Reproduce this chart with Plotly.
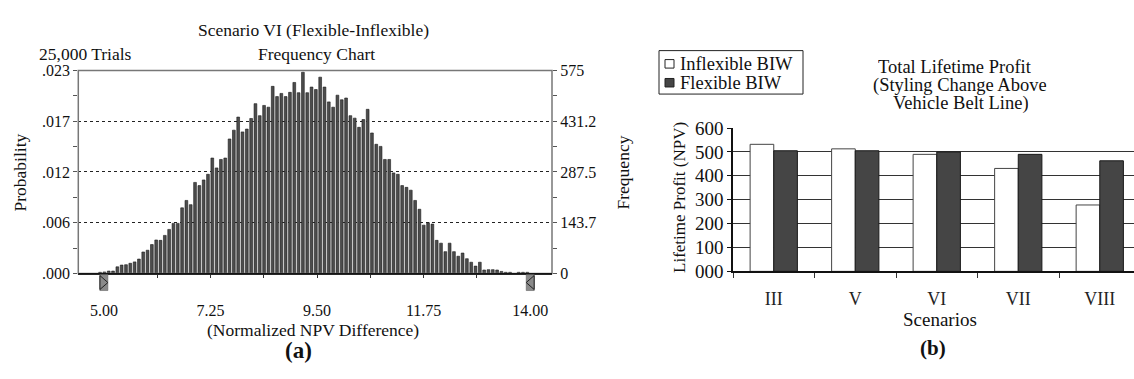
import plotly.graph_objects as go

# ---------------- data: panel (a) ----------------
trials = 25000
bin_start = 4.92
bin_width = 0.0911
freq = [3.5, 4.5, 7, 7, 19, 24, 25, 29, 33, 41,
        61, 66, 82, 95, 94, 108, 125, 142, 142, 186,
        207, 195, 258, 249, 265, 281, 327, 299, 323, 327,
        381, 406, 443, 401, 409, 439, 481, 447, 476, 471,
        530, 501, 510, 501, 513, 541, 512, 570, 512, 528,
        521, 556, 528, 486, 471, 505, 492, 497, 447, 440,
        414, 436, 465, 398, 366, 360, 323, 323, 285, 281,
        249, 244, 236, 207, 182, 137, 144, 140, 94, 86,
        62, 86, 62, 49, 58, 42, 32, 21, 32, 10,
        11, 11, 10, 6, 3.5, 3.5, 0, 3.5, 3.5, 3.5]
bin_centers = [bin_start + bin_width * i for i in range(len(freq))]
x_ticks = [5.00, 7.25, 9.50, 11.75, 14.00]
x_ticktext = ["5.00", "7.25", "9.50", "11.75", "14.00"]
x_minor = [6.125, 8.375, 10.625, 12.875]
freq_ticks = [0, 143.75, 287.5, 431.25, 575]
prob_ticktext = [".000", ".006", ".012", ".017", ".023"]
freq_ticktext = ["0", "143.7", "287.5", "431.2", "575"]
freq_minor = [71.875, 215.625, 359.375, 503.125]
range_lo, range_hi = 5.00, 14.00

# ---------------- data: panel (b) ----------------
scenarios = ["III", "V", "VI", "VII", "VIII"]
series_names = ["Inflexible BIW", "Flexible BIW"]
inflexible = [532, 513, 490, 431, 278]
flexible = [505, 505, 500, 490, 463]
profit_ticks = [0, 100, 200, 300, 400, 500, 600]
profit_ticktext = ["000", "100", "200", "300", "400", "500", "600"]
title_b_lines = ["Total Lifetime Profit", "(Styling Change Above", "Vehicle Belt Line)"]

W, H = 1134, 379
SERIF = "Liberation Serif, Times New Roman, serif"
WHITE_BAR = dict(color="white", line=dict(color="#444", width=1))
DARK_BAR = dict(color="#454545", line=dict(color="#1a1a1a", width=1))


def px_x(x):
    return x / W


def px_y(y):
    return 1 - y / H


fig = go.Figure()

fig.add_trace(go.Bar(
    x=bin_centers, y=freq, width=0.058,
    marker=dict(color="#4d4d4d", line=dict(color="#1a1a1a", width=0.6)),
    xaxis="x", yaxis="y", showlegend=False, hoverinfo="x+y"))
fig.add_trace(go.Scatter(
    x=[bin_centers[0]], y=[0], mode="markers", marker=dict(opacity=0),
    xaxis="x", yaxis="y2", showlegend=False, hoverinfo="skip"))

fig.add_trace(go.Bar(x=scenarios, y=inflexible, name=series_names[0], marker=WHITE_BAR,
                     xaxis="x2", yaxis="y3", showlegend=False))
fig.add_trace(go.Bar(x=scenarios, y=flexible, name=series_names[1], marker=DARK_BAR,
                     xaxis="x2", yaxis="y3", showlegend=False))

tickfont_a = dict(family=SERIF, size=16, color="#111")
tickfont_b = dict(family=SERIF, size=19, color="#111")

fig.update_layout(
    width=W, height=H,
    margin=dict(l=0, r=0, t=0, b=0),
    paper_bgcolor="white", plot_bgcolor="white",
    font=dict(family=SERIF, color="#111"),
    barmode="group", bargap=0.42, bargroupgap=0,
    showlegend=False,
    xaxis=dict(domain=[px_x(78.3), px_x(552)], range=[4.46, 14.46],
               tickvals=x_ticks, ticktext=x_ticktext, tickfont=tickfont_a,
               ticks="outside", ticklen=3, tickcolor="#333",
               minor=dict(tickvals=x_minor, ticks="outside", ticklen=3, tickcolor="#333"),
               showline=True, linecolor="#111", linewidth=1,
               showgrid=False, zeroline=False, ticklabelstandoff=19,
               anchor="y"),
    yaxis=dict(domain=[px_y(279), px_y(64)], range=[0, 575],
               tickvals=freq_ticks, ticktext=prob_ticktext, tickfont=tickfont_a,
               ticks="outside", ticklen=4, tickcolor="#555",
               minor=dict(tickvals=freq_minor, ticks="outside", ticklen=4, tickcolor="#555"),
               showline=False, showgrid=True, gridcolor="#222", griddash="dot",
               gridwidth=1, zeroline=False, anchor="x"),
    yaxis2=dict(overlaying="y", side="right", anchor="x", range=[0, 575],
                tickvals=freq_ticks, ticktext=freq_ticktext, tickfont=tickfont_a,
                ticks="outside", ticklen=4, tickcolor="#555",
                minor=dict(tickvals=freq_minor, ticks="outside", ticklen=4, tickcolor="#555"),
                showline=False, showgrid=False, zeroline=False),
    xaxis2=dict(domain=[px_x(733), 1.0], range=[-0.5, 4.42], type="category",
                tickfont=dict(family=SERIF, size=18, color="#222"),
                ticks="outside", ticklen=5, tickcolor="#333", tickson="boundaries",
                showline=True, linecolor="#111", linewidth=1.5,
                showgrid=False, zeroline=False, ticklabelstandoff=10,
                anchor="y3"),
    yaxis3=dict(domain=[px_y(276.7), px_y(125)], range=[0, 600],
                tickvals=profit_ticks, ticktext=profit_ticktext, tickfont=tickfont_b,
                ticks="outside", ticklen=4, tickcolor="#111",
                showline=True, linecolor="#111", linewidth=1.5,
                showgrid=True, gridcolor="#333", gridwidth=1.3, zeroline=False,
                anchor="x2"),
)

# frame around panel (a)
fig.add_shape(type="rect", xref="x domain", yref="y domain", x0=0, x1=1, y0=0, y1=1,
              line=dict(color="#777", width=1.5), layer="above")
fig.add_shape(type="line", xref="x domain", yref="y domain", x0=0, x1=1, y0=0, y1=0,
              line=dict(color="#111", width=1), layer="above")

# range markers at 5.00 and 14.00
for xv, direction in [(range_lo, 1), (range_hi, -1)]:
    fig.add_shape(type="rect", xref="x", yref="paper", xsizemode="pixel", ysizemode="pixel",
                  xanchor=xv, yanchor=px_y(279), x0=-4, x1=4, y0=-1, y1=-17,
                  fillcolor="#8a8a8a", line=dict(color="#555", width=0.5))
    fig.add_shape(type="path", xref="x", yref="paper", xsizemode="pixel", ysizemode="pixel",
                  xanchor=xv, yanchor=px_y(279),
                  path=f"M {-4*direction},-2 L {4*direction},-9 L {-4*direction},-16 Z",
                  fillcolor="rgba(0,0,0,0)", line=dict(color="#222", width=1))


def ann(text, x, y, size, xanchor="center", angle=0, bold=False, height=None):
    fig.add_annotation(text=f"<b>{text}</b>" if bold else text,
                       x=px_x(x), y=px_y(y), xref="paper", yref="paper",
                       xanchor=xanchor, yanchor="middle", showarrow=False,
                       textangle=angle, height=height, borderpad=0,
                       font=dict(family=SERIF, size=size, color="#111"))


# panel (a) texts
ann("Scenario VI (Flexible-Inflexible)", 313, 21, 17.5)
ann("25,000 Trials", 38, 46.5, 17.5, xanchor="left")
ann("Frequency Chart", 316, 46.5, 17.5)
ann("Probability", 20, 172, 17.5, angle=-90)
ann("Frequency", 623, 172, 17.5, angle=-90)
ann("(Normalized NPV Difference)", 313, 339, 17.5)
ann("(a)", 298, 361, 23, bold=True)

# panel (b) boxed key
fig.add_shape(type="rect", xref="paper", yref="paper",
              x0=px_x(659), x1=px_x(803), y0=px_y(89), y1=px_y(43),
              line=dict(color="#222", width=1), fillcolor="white")
for (yc, style) in [(57, WHITE_BAR), (77, DARK_BAR)]:
    fig.add_shape(type="rect", xref="paper", yref="paper",
                  x0=px_x(665), x1=px_x(674), y0=px_y(yc + 4.5), y1=px_y(yc - 4.5),
                  fillcolor=style["color"], line=dict(color="#222", width=1))
ann(series_names[0], 679, 57, 18.5, xanchor="left", height=19)
ann(series_names[1], 679, 77, 18.5, xanchor="left", height=19)

# panel (b) texts
for line, xc, yc in zip(title_b_lines, [955, 960, 961], [60, 79.5, 99]):
    ann(line, xc, yc, 18.5, height=19)
ann("Lifetime Profit (NPV)", 680, 199, 17, angle=-90)
ann("Scenarios", 940, 328, 19)
ann("(b)", 933, 358, 21, bold=True)

fig.write_html("out.html",
               config={"displayModeBar": False},
               post_script="document.body.style.margin='0px';"
                           "document.body.style.overflow='hidden';")
